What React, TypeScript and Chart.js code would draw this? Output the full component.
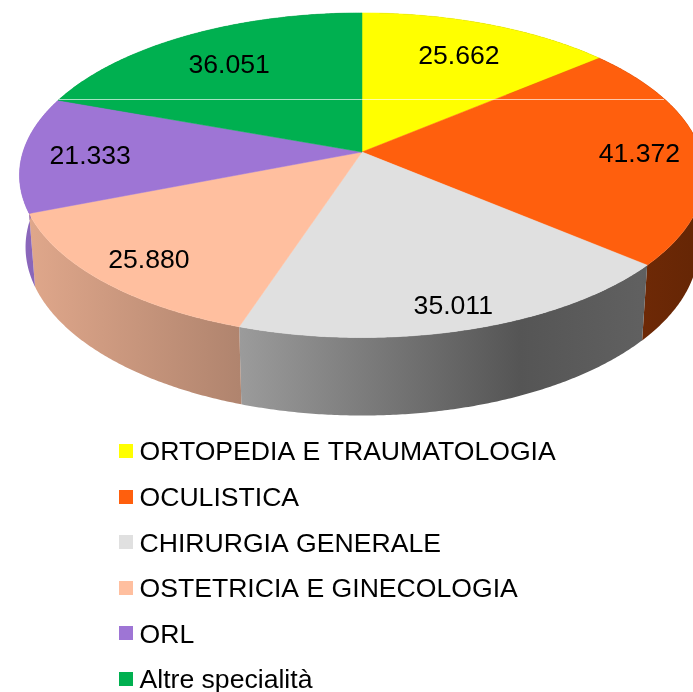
import React, { useEffect, useRef } from "react";
import { Chart, registerables } from "chart.js";

Chart.register(...registerables);

const categories = [
  "ORTOPEDIA E TRAUMATOLOGIA",
  "OCULISTICA",
  "CHIRURGIA GENERALE",
  "OSTETRICIA E GINECOLOGIA",
  "ORL",
  "Altre specialità",
];
const values = [25662, 41372, 35011, 25880, 21333, 36051];
const colors = ["#ffff00", "#ff5f0d", "#e0e0e0", "#ffbf9f", "#9e75d5", "#00b050"];
const wallColors: [number, number, number][] = [
  [255, 255, 0],
  [255, 95, 13],
  [224, 224, 224],
  [255, 191, 159],
  [158, 117, 213],
  [0, 176, 80],
];

// Perspective projection of the pie disc
const CX = 362;
const K = 0.143;
const TOP = { cy: 152, rx: 339, ry: 159 };
const BOTTOM = { cy: 223, rx: 333, ry: 165 };

type Disc = { cy: number; rx: number; ry: number };
const project = (d: Disc, angle: number, rho = 1): [number, number] => {
  const u = Math.cos(angle) * rho;
  const v = Math.sin(angle) * rho;
  const w = 1 - K * v;
  return [CX + (d.rx * u) / w, d.cy + (d.ry * v) / w];
};

// Wall shading as a function of horizontal position
const shadeStops: [number, number][] = [
  [0, 0.9],
  [35, 0.87],
  [240, 0.69],
  [520, 0.38],
  [640, 0.43],
  [693, 0.4],
];
const shadeAt = (x: number) => {
  for (let i = 1; i < shadeStops.length; i++) {
    const [x0, s0] = shadeStops[i - 1];
    const [x1, s1] = shadeStops[i];
    if (x <= x1) return s0 + ((s1 - s0) * (x - x0)) / (x1 - x0);
  }
  return shadeStops[shadeStops.length - 1][1];
};

const arcPoints = (d: Disc, a0: number, a1: number) => {
  const n = Math.max(2, Math.ceil(Math.abs(a1 - a0) / 0.008));
  const pts: [number, number][] = [];
  for (let i = 0; i <= n; i++) pts.push(project(d, a0 + ((a1 - a0) * i) / n));
  return pts;
};

const pie3d = {
  id: "pie3d",
  beforeDatasetDraw(chart: any) {
    const ctx: CanvasRenderingContext2D = chart.ctx;
    const arcs = chart.getDatasetMeta(0).data;
    ctx.save();
    // outer walls
    arcs.forEach((el: any, i: number) => {
      const top = arcPoints(TOP, el.startAngle, el.endAngle);
      const bot = arcPoints(BOTTOM, el.endAngle, el.startAngle);
      const xs = top.concat(bot).map((p) => p[0]);
      const x0 = Math.min(...xs);
      const x1 = Math.max(...xs);
      const grad = ctx.createLinearGradient(x0, 0, x1, 0);
      const [r, g, b] = wallColors[i];
      const add = (x: number) => {
        const s = shadeAt(x);
        grad.addColorStop(
          Math.min(1, Math.max(0, (x - x0) / (x1 - x0))),
          `rgb(${Math.round(r * s)},${Math.round(g * s)},${Math.round(b * s)})`
        );
      };
      add(x0);
      shadeStops.forEach(([x]) => {
        if (x > x0 && x < x1) add(x);
      });
      add(x1);
      ctx.beginPath();
      top.concat(bot).forEach((p, j) => (j ? ctx.lineTo(p[0], p[1]) : ctx.moveTo(p[0], p[1])));
      ctx.closePath();
      ctx.fillStyle = grad;
      ctx.fill();
    });
    // top faces
    arcs.forEach((el: any, i: number) => {
      const pts = arcPoints(TOP, el.startAngle, el.endAngle);
      ctx.beginPath();
      ctx.moveTo(CX, TOP.cy);
      pts.forEach((p) => ctx.lineTo(p[0], p[1]));
      ctx.closePath();
      ctx.fillStyle = colors[i];
      ctx.strokeStyle = colors[i];
      ctx.lineWidth = 0.5;
      ctx.fill();
      ctx.stroke();
    });
    // thin light seam across the pie
    const chordY = 99.5;
    ctx.beginPath();
    ctx.moveTo(59, chordY);
    ctx.lineTo(664, chordY);
    ctx.strokeStyle = "rgba(255,255,255,0.65)";
    ctx.lineWidth = 1;
    ctx.stroke();
    // value labels
    ctx.fillStyle = "#000";
    ctx.font = "26.6px 'Liberation Sans'";
    ctx.textAlign = "center";
    ctx.textBaseline = "middle";
    arcs.forEach((el: any, i: number) => {
      const mid = (el.startAngle + el.endAngle) / 2;
      const u = Math.cos(mid);
      const v = Math.sin(mid);
      const rho = 0.8 + 0.07 * v + 0.018 * Math.max(u, 0) - 0.03 * Math.max(-u, 0) * Math.max(v, 0);
      const [x, y] = project(TOP, mid, rho);
      const text = String(values[i]).replace(/\B(?=(\d{3})+$)/g, ".");
      ctx.fillText(text, x, y + 3);
    });
    // legend
    ctx.textAlign = "left";
    categories.forEach((label, i) => {
      const y = 451 + i * 45.6;
      ctx.fillStyle = colors[i];
      ctx.fillRect(119, Math.round(y - 7), 14, 14);
      ctx.fillStyle = "#000";
      ctx.fillText(label, 139.5, y + 2);
    });
    ctx.restore();
    return false;
  },
};

export default function App() {
  const ref = useRef<HTMLCanvasElement>(null);
  useEffect(() => {
    const chart = new Chart(ref.current!, {
      type: "pie",
      data: {
        labels: categories,
        datasets: [{ data: values, backgroundColor: colors, borderWidth: 0 }],
      },
      options: {
        responsive: false,
        animation: false,
        plugins: { legend: { display: false }, tooltip: { enabled: false } },
      },
      plugins: [pie3d],
    } as any);
    return () => chart.destroy();
  }, []);
  return (
    <div style={{ position: "absolute", left: 0, top: 0, width: 693, height: 692, background: "#fff" }}>
      <canvas ref={ref} width={693} height={692} style={{ display: "block" }} />
    </div>
  );
}
